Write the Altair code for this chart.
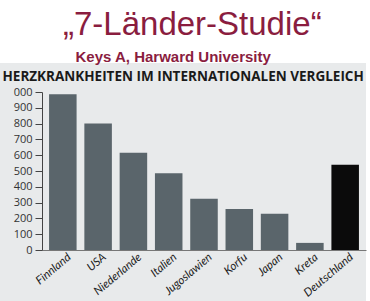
import altair as alt
import pandas as pd

laender = ["Finnland", "USA", "Niederlande", "Italien", "Jugoslawien",
           "Korfu", "Japan", "Kreta", "Deutschland"]
werte = [985, 800, 615, 485, 325, 260, 230, 45, 540]
y_ticks = [0, 100, 200, 300, 400, 500, 600, 700, 800, 900, 1000]

titel = "\u201e7-L\u00e4nder-Studie\u201c"
untertitel = "\u200b\u00a0\u00a0\u00a0Keys A, Harward University"
ueberschrift = "HERZKRANKHEITEN IM INTERNATIONALEN VERGLEICH"

df = pd.DataFrame({"Land": laender, "Wert": werte})

maroon = "#8a1d3f"

bg = alt.Chart(alt.Data(values=[{"a": 1}])).mark_rect(color="#e8eaeb").encode(
    x=alt.value(-42), x2=alt.value(324), y=alt.value(-29), y2=alt.value(209)
)

bars = alt.Chart(df).mark_bar().encode(
    x=alt.X("Land:N", sort=None,
            scale=alt.Scale(paddingInner=0.22, paddingOuter=0.2),
            axis=alt.Axis(title=None, labelAngle=-40, labelFont="Lato",
                          labelFontStyle="italic", labelFontSize=11.5,
                          labelColor="#222222", ticks=False,
                          domainColor="#777777", labelPadding=1, labelOffset=3,
                          zindex=1, labelAlign="right", labelBaseline="top")),
    y=alt.Y("Wert:Q", scale=alt.Scale(domain=[0, 1000], nice=False),
            axis=alt.Axis(values=y_ticks, grid=False, tickSize=7,
                          tickColor="#444444", domainColor="#444444",
                          labelExpr="datum.value == 1000 ? '000' : datum.label",
                          labelFont="Open Sans", labelFontSize=11,
                          labelColor="#333333", labelPadding=3,
                          title=ueberschrift, titleAngle=0, titleAlign="left",
                          titleBaseline="alphabetic", titleX=-40, titleY=-12,
                          titleFont="Open Sans", titleFontSize=13.5,
                          titleLimit=400,
                          titleFontWeight="bold", titleColor="#1a1a1a",
                          zindex=1)),
    color=alt.condition(alt.datum.Land == "Deutschland",
                        alt.value("#0b0b0b"), alt.value("#5a656b")),
)

chart = alt.layer(bg, bars).properties(
    width=324, height=158,
    padding={"left": 42, "top": 92, "right": 4, "bottom": 51},
    autosize=alt.AutoSizeParams(type="none"),
    background="white",
    title=alt.TitleParams(text=titel, subtitle=untertitel,
                          font="Liberation Sans", fontSize=33,
                          fontWeight="normal", color=maroon,
                          subtitleFont="Liberation Sans", subtitleFontSize=15,
                          subtitleFontWeight="bold", subtitleColor=maroon,
                          anchor="start", frame="group", dx=21, offset=-2,
                          subtitlePadding=8, zindex=1),
).configure_view(strokeWidth=0)

chart.save("out.html", embed_options={"renderer": "svg", "actions": False})
